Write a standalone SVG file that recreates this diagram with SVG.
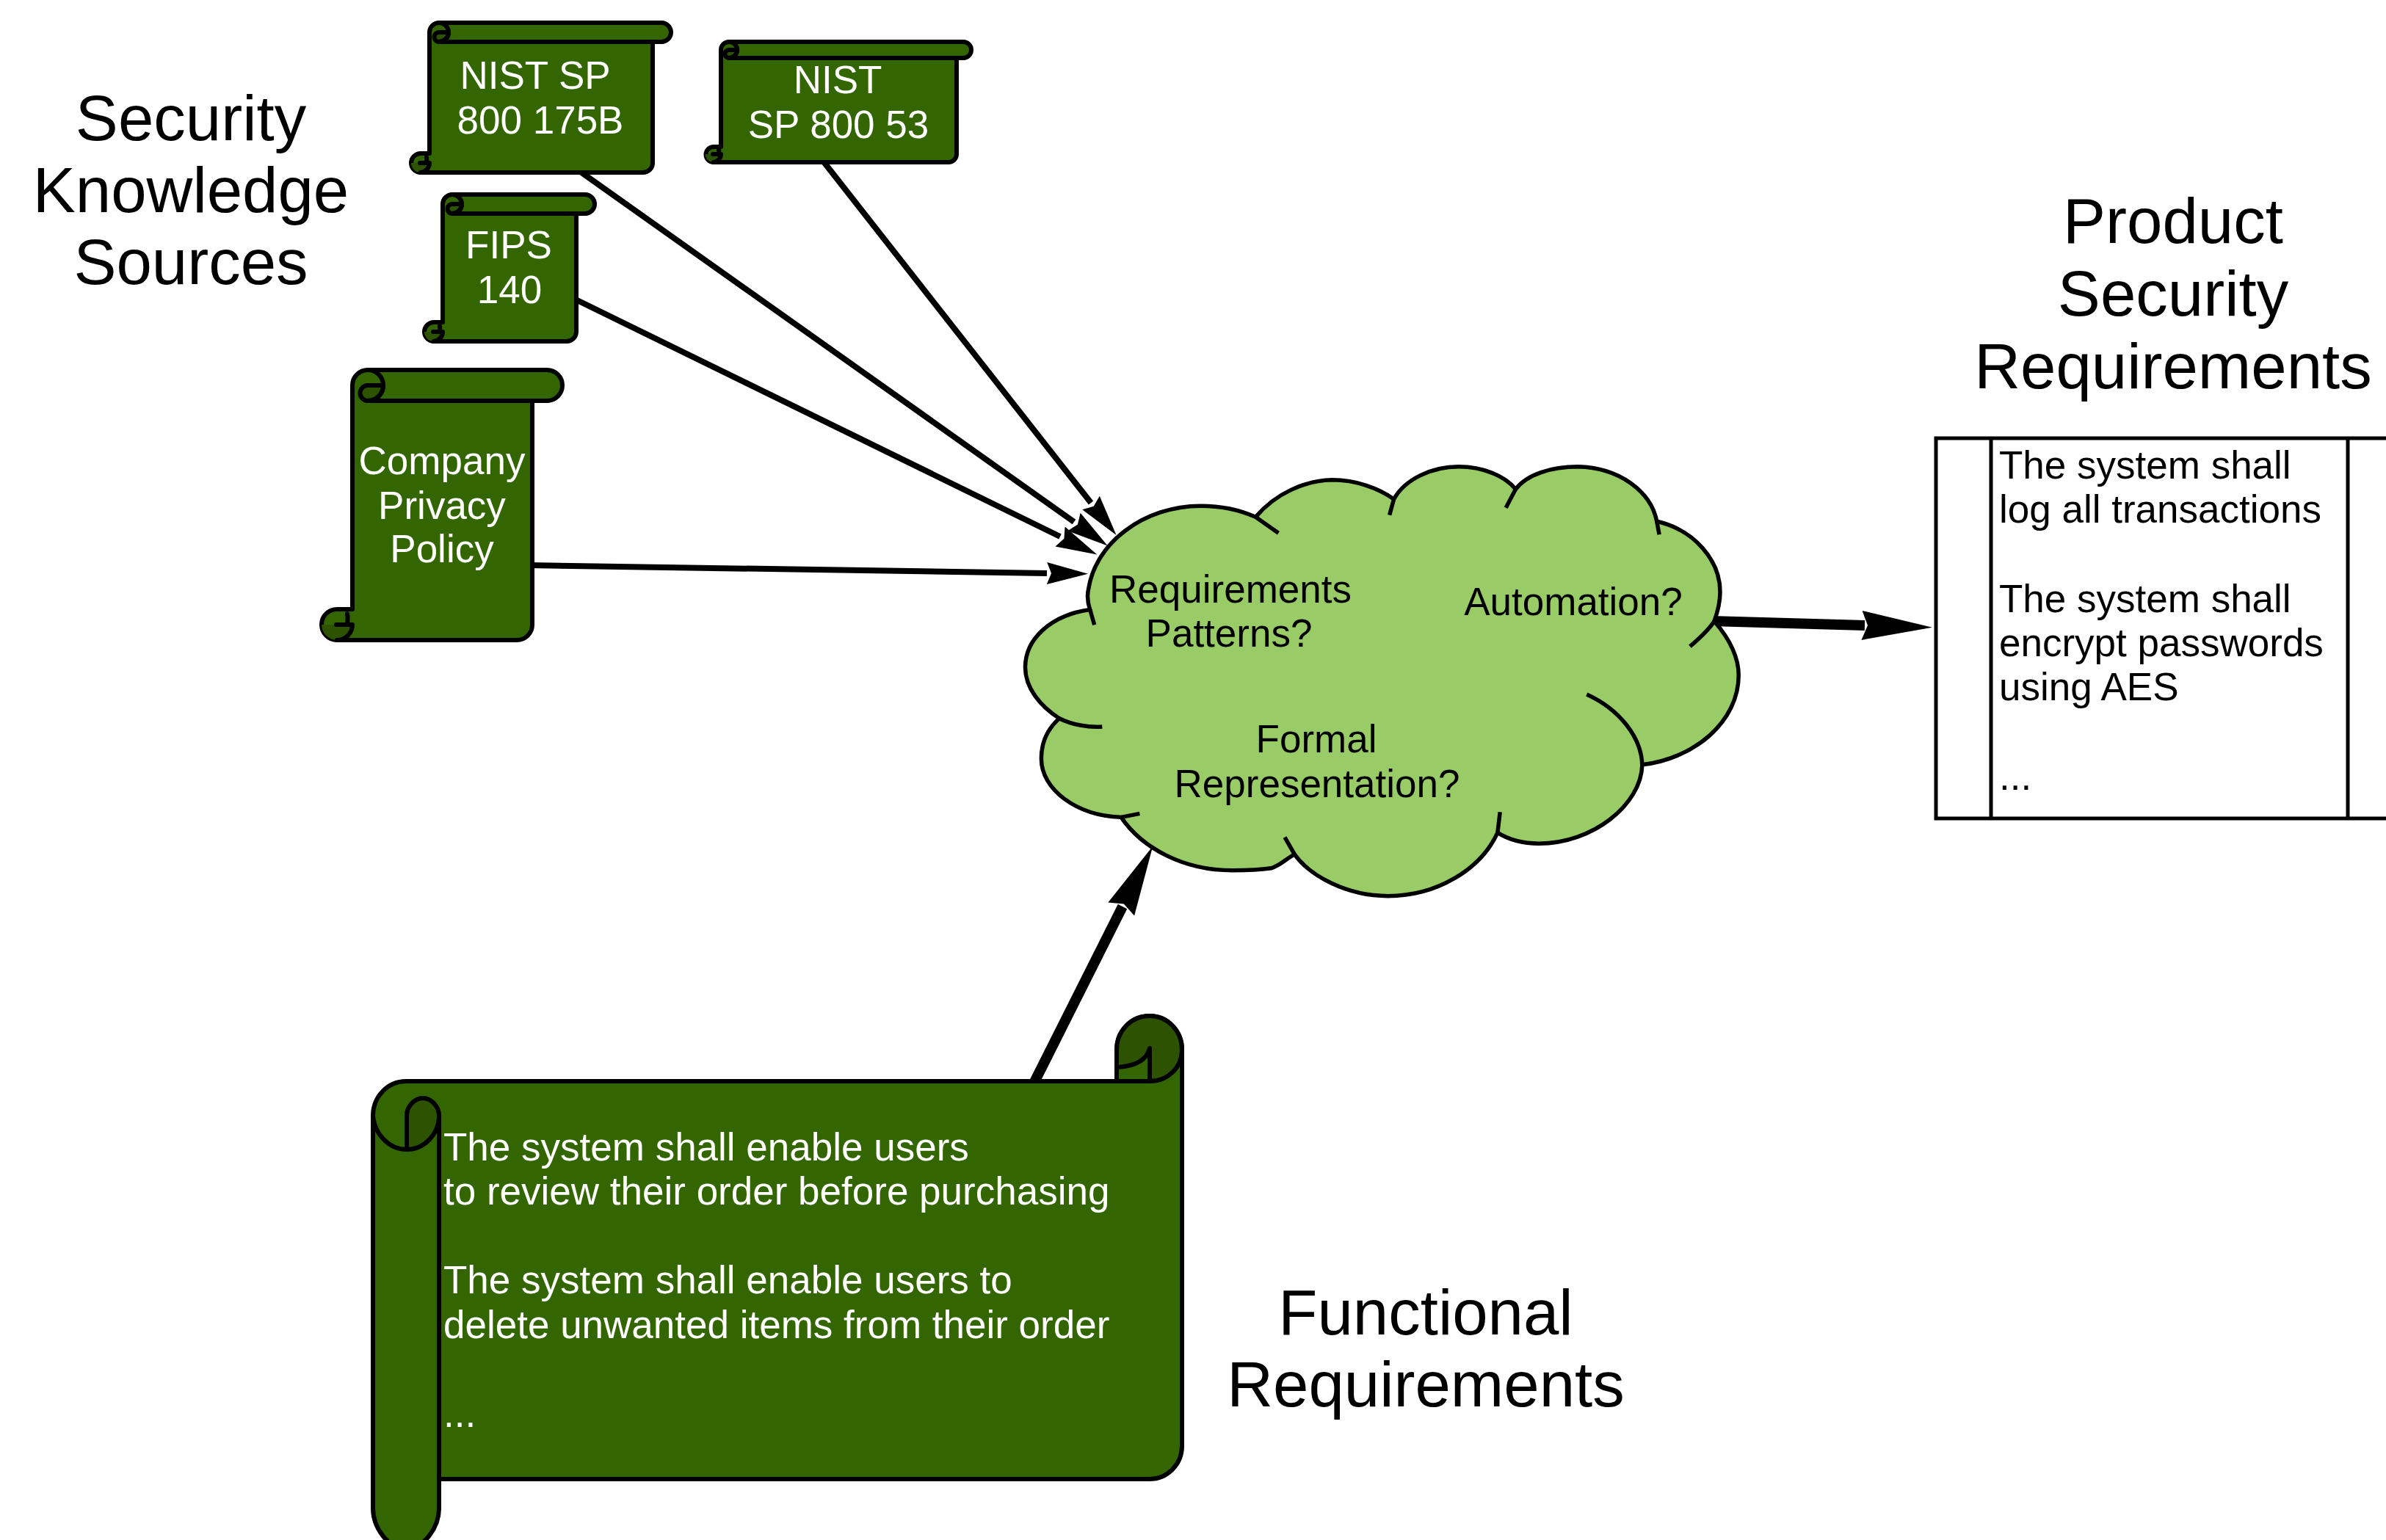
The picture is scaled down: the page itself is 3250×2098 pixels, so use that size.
<svg xmlns="http://www.w3.org/2000/svg" width="3250" height="2098" viewBox="0 0 3250 2098">
<style>
text{font-family:"Liberation Sans",Arial,sans-serif;font-size:53px;fill:#000}
.c{text-anchor:middle}
.w{fill:#fff}
.t{font-size:87px}
.body{fill:#336600;stroke:#000;stroke-width:6;stroke-linejoin:round}
.dark{fill:#2d5200;stroke:#000;stroke-width:6;stroke-linejoin:round}
.darkf{fill:#2d5200;stroke:none}
.line{fill:none;stroke:#000;stroke-width:6;stroke-linecap:round;stroke-linejoin:round}
.cloud{fill:#99cc66;stroke:#000;stroke-width:5.5;vector-effect:non-scaling-stroke}
.cline{fill:none;stroke:#000;stroke-width:5.5;vector-effect:non-scaling-stroke}
.a1{stroke:#000;stroke-width:8;fill:none;marker-end:url(#thin)}
.a2{stroke:#000;stroke-width:14;fill:none;marker-end:url(#thick)}
.box{fill:#fff;stroke:#000;stroke-width:5}
</style>
<defs>
<marker id="thin" markerUnits="userSpaceOnUse" markerWidth="58" markerHeight="32" refX="0" refY="16" orient="auto"><path d="M0,1 L56,16 L0,31 L6,16 Z" fill="#000"/></marker>
<marker id="thick" markerUnits="userSpaceOnUse" markerWidth="98" markerHeight="42" refX="4" refY="21" orient="auto"><path d="M0,1 L96,21 L0,41 L8,21 Z" fill="#000"/></marker>
</defs>
<g id="titles">
<text class="c t" x="260" y="191">Security</text>
<text class="c t" x="260" y="289">Knowledge</text>
<text class="c t" x="260" y="387">Sources</text>
<text class="c t" x="2960" y="331">Product</text>
<text class="c t" x="2960" y="430">Security</text>
<text class="c t" x="2960" y="529">Requirements</text>
<text class="c t" x="1942" y="1818">Functional</text>
<text class="c t" x="1942" y="1916">Requirements</text>
</g>
<g id="connectors">
<path class="a1" d="M1120,218 L1486,685"/>
<path class="a1" d="M785,230 L1463,711"/>
<path class="a1" d="M780,406 L1444,731"/>
<path class="a1" d="M720,770 L1426,781"/>
<path class="a2" d="M1408,1476 L1529,1235"/>
<path class="a2" d="M2330,846 L2540,852"/>
</g>
<g id="nist-175b">
<path class="body" d="M585,44 A13 13 0 0 1 598,31 H901 A13 13 0 0 1 901,57 H889 V222 A13 13 0 0 1 876,235 H573 A13 13 0 0 1 573,209 H585 Z"/>
<path class="dark" d="M611,44 H598 A6.5 6.5 0 0 0 598,57 A13 13 0 0 0 611,44 Z"/>
<path class="darkf" d="M573,235 A13 13 0 0 1 560,222 H585 A13 13 0 0 1 573,235 Z"/>
<path class="line" d="M598,31 A13 13 0 0 1 598,57 H901 M573,235 A13 13 0 0 0 585,222 H572 M579,222 Q582,222 581,214"/>
<text class="c w" x="729" y="121">NIST SP</text>
<text class="c w" x="736" y="182">800 175B</text>
</g>
<g id="nist-53">
<path class="body" d="M982,68 A11 11 0 0 1 993,57 H1312 A11 11 0 0 1 1312,79 H1303 V210 A11 11 0 0 1 1292,221 H972 A10.5 10.5 0 0 1 972,200 H982 Z"/>
<path class="dark" d="M1004,68 H993 A5.5 5.5 0 0 0 993,79 A11 11 0 0 0 1004,68 Z"/>
<path class="darkf" d="M972,221 A10.5 10.5 0 0 1 961,210 H982 A11 11 0 0 1 972,221 Z"/>
<path class="line" d="M993,57 A11 11 0 0 1 993,79 H1312 M972,221 A11 11 0 0 0 982,210 H971 M977,210 Q980,210 979,204"/>
<text class="c w" x="1141" y="127">NIST</text>
<text class="c w" x="1142" y="188">SP 800 53</text>
</g>
<g id="fips-140">
<path class="body" d="M603,278 A13 13 0 0 1 616,265 H797 A13 13 0 0 1 797,291 H785 V452 A13 13 0 0 1 772,465 H591 A13 13 0 0 1 591,439 H603 Z"/>
<path class="dark" d="M629,278 H616 A6.5 6.5 0 0 0 616,291 A13 13 0 0 0 629,278 Z"/>
<path class="darkf" d="M591,465 A13 13 0 0 1 578,452 H603 A13 13 0 0 1 591,465 Z"/>
<path class="line" d="M616,265 A13 13 0 0 1 616,291 H797 M591,465 A13 13 0 0 0 603,452 H590 M597,452 Q600,452 599,444"/>
<text class="c w" x="693" y="352">FIPS</text>
<text class="c w" x="694" y="413">140</text>
</g>
<g id="company-privacy-policy">
<path class="body" d="M480,525 A21 21 0 0 1 501,504 H745 A21 21 0 0 1 745,546 H725 V851 A21 21 0 0 1 704,872 H459 A21 21 0 0 1 459,830 H480 Z"/>
<path class="dark" d="M522,525 H501 A10.5 10.5 0 0 0 501,546 A21 21 0 0 0 522,525 Z"/>
<path class="darkf" d="M459,872 A21 21 0 0 1 438,851 H480 A21 21 0 0 1 459,872 Z"/>
<path class="line" d="M501,504 A21 21 0 0 1 501,546 H745 M459,872 A21 21 0 0 0 480,851 H458 M470,851 Q475,851 473,836"/>
<text class="c w" x="602" y="646">Company</text>
<text class="c w" x="602" y="707">Privacy</text>
<text class="c w" x="602" y="766">Policy</text>
</g>
<g id="cloud">
<g transform="translate(1360 600) scale(0.6633 0.4208)">
<path class="cloud" d="M528,248 C570,170 630,130 685,128 C735,128 780,155 812,190 C835,125 890,85 945,85 C995,85 1040,115 1062,158 C1085,110 1135,85 1190,85 C1275,88 1340,165 1352,262 C1430,290 1482,390 1482,490 C1482,520 1478,550 1470,585 C1500,640 1520,700 1520,760 C1520,910 1430,1030 1322,1050 C1320,1180 1220,1305 1110,1305 C1080,1305 1050,1295 1025,1270 C990,1390 900,1475 800,1475 C715,1475 640,1410 608,1340 C590,1355 580,1375 560,1385 C530,1392 500,1392 480,1392 C380,1392 295,1320 252,1220 C160,1215 88,1130 88,1030 C88,980 100,935 125,900 C85,860 55,800 55,735 C55,640 110,565 188,548 C182,520 182,500 185,480 C200,330 300,212 415,212 C460,212 500,228 528,248 Z"/>
<path class="cline" d="M528,248 L575,300 M812,190 L803,242 M1062,158 L1042,218 M1352,262 L1357,305 M1470,585 C1460,610 1440,640 1420,667 M1322,1050 C1320,960 1275,870 1208,822 M1025,1270 L1030,1203 M608,1340 L588,1285 M252,1220 L290,1208 M125,900 C150,920 185,930 213,927 M188,548 L197,597"/>
</g>
<text class="c" x="1676" y="821">Requirements</text>
<text class="c" x="1674" y="881">Patterns?</text>
<text class="c" x="2143" y="838">Automation?</text>
<text class="c" x="1793" y="1025">Formal</text>
<text class="c" x="1794" y="1086">Representation?</text>
</g>
<g id="functional-requirements">
<path class="body" d="M508,1520 C508,1494 528,1473 553,1473 H1521 V1430 C1521,1404 1541,1384 1566,1384 C1590,1384 1610,1404 1610,1430 V1970 C1610,1995 1590,2015 1566,2015 H598 V2055 C598,2080 578,2110 553,2110 C528,2110 508,2080 508,2055 Z"/>
<path class="dark" d="M554,1520 C554,1507 565,1496 576,1496 C587,1496 598,1507 598,1520 C598,1545 578,1566 554,1566 Z"/>
<path class="dark" d="M1521,1430 C1521,1404 1541,1384 1566,1384 C1590,1384 1610,1404 1610,1430 C1610,1455 1590,1473 1566,1473 V1428 Q1560,1452 1521,1454 Z"/>
<path class="line" d="M508,1520 C510,1545 530,1566 554,1566 M598,1520 V2055 M1521,1473 H1566"/>
<text class="w" x="604" y="1581">The system shall enable users</text>
<text class="w" x="604" y="1641">to review their order before purchasing</text>
<text class="w" x="604" y="1762">The system shall enable users to</text>
<text class="w" x="604" y="1823">delete unwanted items from their order</text>
<text class="w" x="604" y="1944">...</text>
</g>
<g id="product-security-requirements">
<rect class="box" x="2637" y="597" width="640" height="518"/>
<path class="box" d="M2712,597 V1115 M3198,597 V1115"/>
<text x="2723" y="652">The system shall</text>
<text x="2723" y="712">log all transactions</text>
<text x="2723" y="834">The system shall</text>
<text x="2723" y="894">encrypt passwords</text>
<text x="2723" y="954">using AES</text>
<text x="2723" y="1076">...</text>
</g>
</svg>
